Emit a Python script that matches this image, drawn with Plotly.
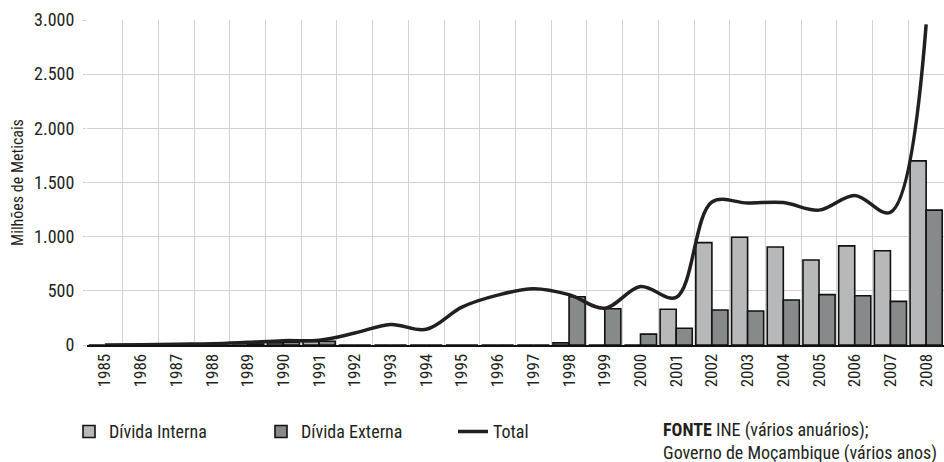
import plotly.graph_objects as go

years = [str(y) for y in range(1985, 2009)]
divida_interna = [0, 0, 0, 0, 0, 20, 30, 0, 0, 0, 0, 0, 0, 20, 0, 0, 330, 945, 995, 905, 785, 915, 870, 1700]
divida_externa = [0, 0, 0, 0, 10, 25, 35, 0, 0, 0, 0, 0, 0, 445, 335, 100, 154, 323, 314, 415, 465, 455, 403, 1245]
total = [0, 2, 8, 12, 25, 40, 45, 110, 190, 145, 350, 460, 520, 465, 340, 540, 440, 1320, 1310, 1315, 1245, 1380, 1225, 2960]

FONT = "Roboto Condensed, DejaVu Sans Condensed, sans-serif"
TXT = "#231f20"
GRID = "#d2d2d2"

fig = go.Figure()
fig.add_trace(go.Bar(x=years, y=divida_interna, name="Dívida Interna",
                     marker=dict(color="#b7b8ba", line=dict(color="#111111", width=1.6))))
fig.add_trace(go.Bar(x=years, y=divida_externa, name="Dívida Externa",
                     marker=dict(color="#868a8a", line=dict(color="#111111", width=1.6))))
fig.add_trace(go.Scatter(x=years, y=total, name="Total", mode="lines",
                         line=dict(color=TXT, width=3.5, shape="spline", smoothing=1.0),
                         cliponaxis=False))

fig.update_layout(
    width=944, height=462,
    margin=dict(l=87, r=0, t=20, b=117),
    paper_bgcolor="white", plot_bgcolor="white",
    font=dict(family=FONT, size=18, color=TXT),
    separators=",.",
    barmode="group", bargap=0.1, bargroupgap=0,
    showlegend=True,
    legend=dict(orientation="h", x=(69 - 87) / 857, xanchor="left", y=-0.21, yanchor="top",
                entrywidth=147, entrywidthmode="pixels",
                font=dict(size=18, family=FONT, color=TXT), traceorder="normal",
                itemwidth=30),
    xaxis=dict(type="category", tickson="boundaries", tickangle=-90,
               showgrid=True, gridcolor=GRID, gridwidth=1,
               showline=True, linecolor="#111111", linewidth=2,
               ticks="", tickfont=dict(size=17, family=FONT, color=TXT),
               range=[-0.5, 23.5]),
    yaxis=dict(range=[0, 3000], tickvals=[0, 500, 1000, 1500, 2000, 2500, 3000],
               tickformat=",d", showgrid=True, gridcolor=GRID, gridwidth=1,
               zeroline=False, showline=False, ticks="outside", ticklen=3,
               tickcolor=GRID, ticklabelstandoff=5,
               tickfont=dict(size=18, family=FONT, color=TXT),
               title=dict(text="Milhões de Meticais", standoff=6,
                          font=dict(size=16, family=FONT, color=TXT))),
)

fig.add_annotation(xref="paper", yref="paper", x=(661 - 87) / 857, y=-0.2215,
                   xanchor="left", yanchor="top", align="left", showarrow=False,
                   text="<b>FONTE</b> INE (vários anuários);<br>Governo de Moçambique (vários anos)",
                   font=dict(size=18, family=FONT, color=TXT))

fig.write_html("out.html", config={"displayModeBar": False},
               post_script="document.body.style.margin='0';")
